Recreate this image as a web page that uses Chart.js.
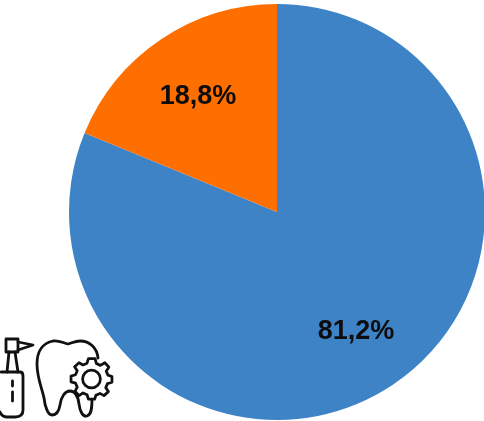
<!DOCTYPE html>
<html><head><meta charset="utf-8">
<style>
html,body{margin:0;padding:0;background:#fff;overflow:hidden;width:484px;height:421px}
#w{position:absolute;left:0;top:0;width:486px;height:421px}
svg{position:absolute;left:0;top:0}
</style>
<script src="https://cdn.jsdelivr.net/npm/chart.js@4/dist/chart.umd.min.js"></script>
</head><body>
<div id="w"><canvas id="c" width="486" height="421"></canvas></div>
<svg width="484" height="421" viewBox="0 0 484 421" fill="none" stroke="#111" stroke-width="2.8" stroke-linejoin="round" stroke-linecap="round" style="filter:blur(.4px)">
  <rect x="6" y="339" width="12" height="13"/>
  <path d="M18 342 L33 345 L18 350"/>
  <path d="M9 352 L7 372 M15 352 L18 372"/>
  <path d="M1 372 H20 Q23 372 23 376 V410 Q23 417 15 417 H7 Q2 417 0 412"/>
  <path d="M12.500 381 V386 M12.500 392 V401"/>
  <path d="M98 358 C97 348 90 341 80 341 C75 341 72 343 68 344 C63 343 59 340 53 341 C43 343 37 351 37 364 C37 378 42 388 44 398 C45 407 48 415 52 415 C57 415 59 411 60 405 C61 397 65 391 70 391 C76 391 78 396 79 404 C80 412 83 417 87 416 C91 415 92 410 92 399"/>
  <g transform="translate(91.500 379) scale(.89) translate(-89 -383.300)" stroke-width="3.100">
    <path fill="#fff" d="M85.500 360.500 L93 360.500 L94.500 366 L99 368 L104 365 L108.500 370 L105.500 374.500 L107.500 379 L112 380.500 L112 387 L107 388.500 L105 393 L108 397.500 L103 402 L98.500 399.500 L94 401.500 L92.500 406 L85.500 406 L84 401 L79.500 399 L75 402 L70.500 397 L73 392.500 L71 388 L66 386.500 L66 380 L71 378.500 L73 374 L70 369.500 L75 365 L79.500 367.500 L84 365.500 Z"/>
    <circle cx="89" cy="383.300" r="10"/>
  </g>
</svg>
<script>
const categories = ["B", "A"];
const seriesValues = [81.2, 18.8];
const sliceColors = ["#3f83c7", "#ff6f00"];
const valueLabels = ["81,2%", "18,8%"];

const labelPlugin = {
  id: "sliceLabels",
  afterDatasetsDraw(chart) {
    const ctx = chart.ctx;
    const meta = chart.getDatasetMeta(0);
    ctx.save();
    ctx.font = "bold 27px 'Liberation Sans', Arial, sans-serif";
    ctx.fillStyle = "#0d0d0d";
    ctx.textAlign = "center";
    ctx.textBaseline = "middle";
    meta.data.forEach((arc, i) => {
      const p = arc.getCenterPoint();
      const x = arc.x + (p.x - arc.x) * 1.365;
      const y = arc.y + (p.y - arc.y) * 1.365;
      ctx.fillText(valueLabels[i], x, y + 2);
    });
    ctx.restore();
  }
};

new Chart(document.getElementById("c"), {
  type: "pie",
  data: {
    labels: categories,
    datasets: [{ data: seriesValues, backgroundColor: sliceColors, borderWidth: 0 }]
  },
  options: {
    responsive: false,
    animation: false,
    layout: { padding: { left: 69, right: 1, top: 4, bottom: 1 } },
    plugins: { legend: { display: false }, tooltip: { enabled: false } }
  },
  plugins: [labelPlugin]
});
</script>
</body></html>
